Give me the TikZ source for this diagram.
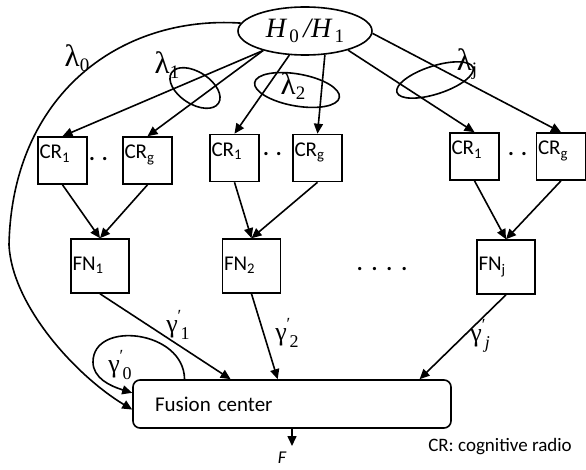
\documentclass[tikz,border=0pt]{standalone}
\usepackage{fontspec}
\setmainfont{Carlito}
\newfontfamily\grk{Liberation Serif}
\usetikzlibrary{shapes.geometric, arrows.meta, positioning}

\newcommand{\lam}[1]{{\grk\fontsize{31}{34}\selectfont λ\raisebox{-5pt}{\fontsize{19}{19}\selectfont #1}}}
\newcommand{\gam}[1]{{\grk γ\rlap{\raisebox{11pt}{\fontsize{17}{17}\selectfont ′}}\raisebox{-7pt}{\fontsize{18}{18}\selectfont\hspace{3pt}#1}}}

\begin{document}
\begin{tikzpicture}[
    x=1pt, y=-1pt,
    hyp/.style={draw, ellipse, line width=1.6pt, minimum width=134pt, minimum height=48pt, inner sep=0pt},
    crbox/.style={draw, line width=1.6pt, minimum width=49pt, minimum height=47pt, inner xsep=1.5pt, inner ysep=0pt,
        text width=46pt, align=left, text height=22pt, text depth=25pt, font=\fontsize{21}{24}\selectfont},
    fnbox/.style={draw, line width=1.6pt, minimum width=58pt, minimum height=54pt, inner xsep=1.5pt, inner ysep=0pt,
        text width=55pt, align=left, text height=31pt, text depth=23pt, font=\fontsize{21}{24}\selectfont},
    fcbox/.style={draw, line width=1.6pt, rounded corners=7pt, minimum width=318pt, minimum height=48pt, inner xsep=22pt,
        text width=274pt, align=left, font=\fontsize{21}{24}\selectfont},
    grp/.style={draw, ellipse, line width=1.6pt, inner sep=0pt},
    dots/.style={inner sep=0pt, font=\fontsize{22}{24}\selectfont\bfseries},
    lbl/.style={inner sep=0pt, font=\fontsize{26}{30}\selectfont},
    arr/.style={-{Triangle[length=10pt, width=9pt]}, line width=1.6pt}
]
    \useasboundingbox (0,0) rectangle (586,470);

    % Hypothesis
    \node[hyp] (h) at (305,31) {\grk\fontsize{28}{32}\selectfont\itshape H\raisebox{-5pt}{\upshape\fontsize{19}{19}\selectfont\,0}\,/H\raisebox{-5pt}{\upshape\fontsize{19}{19}\selectfont\,1}};

    % Cognitive radios
    \node[crbox] (cr11) at (62.5,160.5) {CR\textsubscript{1}};
    \node[crbox] (cr1g) at (147.5,160.5) {CR\textsubscript{g}};
    \node[dots] (d1) at (98.5,159) {.\hspace{7pt}.};

    \node[crbox] (cr21) at (234.5,158) {CR\textsubscript{1}};
    \node[crbox] (cr2g) at (317.5,158) {CR\textsubscript{g}};
    \node[dots] (d2) at (272.5,154) {.\hspace{7pt}.};

    \node[crbox] (crj1) at (474.5,156.5) {CR\textsubscript{1}};
    \node[crbox] (crjg) at (561,156.5) {CR\textsubscript{g}};
    \node[dots] (dj) at (517.5,154) {.\hspace{7pt}.};

    % Fusion nodes
    \node[fnbox] (fn1) at (100,266) {FN\textsubscript{1}};
    \node[fnbox] (fn2) at (251.5,266) {FN\textsubscript{2}};
    \node[fnbox] (fnj) at (506,267) {FN\textsubscript{j}};
    \node[dots] (dfn) at (382,269) {.\hspace{9pt}.\hspace{9pt}.\hspace{9pt}.};

    % Fusion center
    \node[fcbox] (fc) at (292,404) {Fusion center};
    \coordinate (fout) at (292,446);
    \node[font=\fontsize{18}{20}\selectfont\itshape, inner sep=0pt] (F) at (282,458) {F};
    \node[font=\fontsize{19}{22}\selectfont, inner sep=0pt] (note) at (500,447) {CR: cognitive radio};

    % Channel groups
    \node[grp, minimum width=56pt, minimum height=32pt, rotate=-33] (grp1) at (195,88) {};
    \node[grp, minimum width=86pt, minimum height=32pt, rotate=-10] (grp2) at (297,90) {};
    \node[grp, minimum width=80pt, minimum height=28pt, rotate=18] (grpj) at (435,80) {};

    % Labels
    \node[lbl] (l0) at (77,58) {\lam{0}};
    \node[lbl] (l1) at (167,65) {\lam{1}};
    \node[lbl] (l2) at (293,86) {\lam{2}};
    \node[lbl] (lj) at (467,64) {\lam{j}};
    \node[lbl] (g0) at (120,365) {\gam{0}};
    \node[lbl] (g1) at (178,325) {\gam{1}};
    \node[lbl] (g2) at (287,333) {\gam{2}};
    \node[lbl] (gj) at (480,336) {\gam{\itshape j}};

    % Sensing links
    \draw[arr] (h.205) -- (cr11.north);
    \draw[arr] (h.205) -- (cr1g.north);
    \draw[arr] (h.237) -- (cr21.north);
    \draw[arr] (h.310) -- (cr2g.north);
    \draw[arr] (h.336) -- (crj1.north);
    \draw[arr] (h.358) -- (crjg.north);

    % Reports to fusion nodes
    \draw[arr] (cr11.south) -- (fn1.north);
    \draw[arr] (cr1g.south) -- (fn1.north);
    \draw[arr] (cr21.south) -- (fn2.north);
    \draw[arr] (cr2g.south) -- (fn2.north);
    \draw[arr] (crj1.south) -- (fnj.north);
    \draw[arr] (crjg.south) -- (fnj.north);

    % Reports to fusion center
    \draw[arr] (fn1.south) -- (fc.158.8);
    \draw[arr] (fn2.south) -- (fc.120.3);
    \draw[arr] (fnj.south) -- (fc.11.5);
    \draw[arr] (fc.south) -- (fout);

    % Direct link and self loop
    \coordinate (bend) at (9,245);
    \draw[arr] (h.173) .. controls (120,15) and (12,95) .. (bend)
        .. controls (12,305) and (75,375) .. (fc.182);
    \coordinate (loopw) at (93,362);
    \draw[arr] (fc.167.7) .. controls (184,330) and (93,320) .. (loopw)
        .. controls (93,378) and (110,386) .. (fc.176);

\end{tikzpicture}
\end{document}
